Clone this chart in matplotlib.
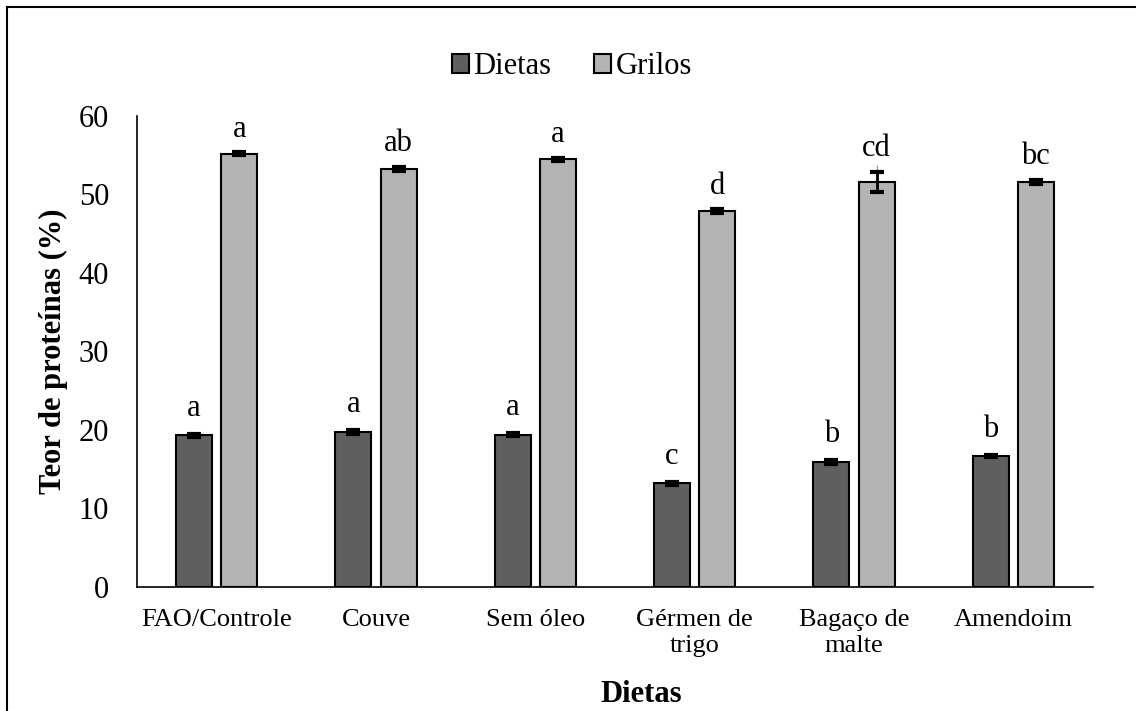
import numpy as np
import matplotlib.pyplot as plt
from matplotlib.lines import Line2D

# Dados
dietas = ["FAO/Controle", "Couve", "Sem óleo", "Gérmen de\ntrigo", "Bagaço de\nmalte", "Amendoim"]
prot_dietas = [19.3, 19.7, 19.4, 13.2, 15.9, 16.7]
erro_dietas = [0.2, 0.25, 0.2, 0.15, 0.25, 0.15]
prot_grilos = [55.2, 53.3, 54.5, 47.9, 51.6, 51.6]
erro_grilos = [0.2, 0.25, 0.2, 0.2, 1.3, 0.3]
erro_grilos_sup = [0, 0, 0, 0, 2.2, 0]  # barra fina cinza acima (malte)
letras_dietas = ["a", "a", "a", "c", "b", "b"]
letras_grilos = ["a", "ab", "a", "d", "cd", "bc"]

plt.rcParams['font.family'] = ['Liberation Serif', 'DejaVu Serif']

fig = plt.figure(figsize=(11.36, 7.11), dpi=100)
ax = fig.add_axes([0.1206, 0.1744, 0.8415, 0.6625])

x = np.arange(len(dietas))
w = 0.226
off = 0.142

ax.bar(x - off, prot_dietas, w, color="#5f5f5f", edgecolor="black", linewidth=1.5, label="Dietas", zorder=2)
ax.bar(x + off, prot_grilos, w, color="#b3b3b3", edgecolor="black", linewidth=1.5, label="Grilos", zorder=2)
ax.errorbar(x + off, prot_grilos, yerr=[np.zeros(len(x)), erro_grilos_sup], fmt="none",
            ecolor="#a0a0a0", elinewidth=1, capsize=0, zorder=2.5)
ax.errorbar(x - off, prot_dietas, yerr=erro_dietas, fmt="none", ecolor="black",
            elinewidth=2, capsize=5, capthick=3, zorder=3)
ax.errorbar(x + off, prot_grilos, yerr=erro_grilos, fmt="none", ecolor="black",
            elinewidth=2, capsize=5, capthick=3, zorder=3)

# Letras de significância
for xi, v, e, t in zip(x - off, prot_dietas, erro_dietas, letras_dietas):
    ax.annotate(t, (xi, v + e), xytext=(0, 8), textcoords="offset points",
                ha="center", va="bottom", fontsize=22)
for xi, v, e, t in zip(x + off, prot_grilos, erro_grilos, letras_grilos):
    ax.annotate(t, (xi, v + e), xytext=(0, 6), textcoords="offset points",
                ha="center", va="bottom", fontsize=22)

ax.set_xlim(-0.5, len(dietas) - 0.5)
ax.set_ylim(0, 60)
ax.set_yticks(range(0, 61, 10))
ax.set_xticks(x)
ax.set_xticklabels(dietas, fontsize=19, linespacing=1.2)
ax.tick_params(axis="y", length=0, pad=20, labelsize=22)
ax.tick_params(axis="x", length=0, pad=16)

ax.spines["top"].set_visible(False)
ax.spines["right"].set_visible(False)
ax.spines["left"].set_linewidth(1.2)
ax.spines["bottom"].set_linewidth(1.2)

ax.set_ylabel("Teor de proteínas (%)", fontsize=22, fontweight="bold", labelpad=8)
fig.text(641 / 1136, 1 - 695 / 711, "Dietas", fontsize=22, fontweight="bold",
         ha="center", va="center")

fig.legend(*ax.get_legend_handles_labels(), loc="center",
           bbox_to_anchor=(572 / 1136, 1 - 67 / 711), ncol=2, frameon=False,
           fontsize=22, handlelength=0.55, handleheight=0.6, handletextpad=0.15,
           columnspacing=1.4, borderaxespad=0)

# Moldura (topo e lado esquerdo)
fig.add_artist(Line2D([7 / 1136, 1.0], [1 - 7 / 711, 1 - 7 / 711], transform=fig.transFigure,
                      color="black", linewidth=1.5))
fig.add_artist(Line2D([7 / 1136, 7 / 1136], [0.0, 1 - 7 / 711], transform=fig.transFigure,
                      color="black", linewidth=1.5))

fig.savefig("out.png", dpi=100)
